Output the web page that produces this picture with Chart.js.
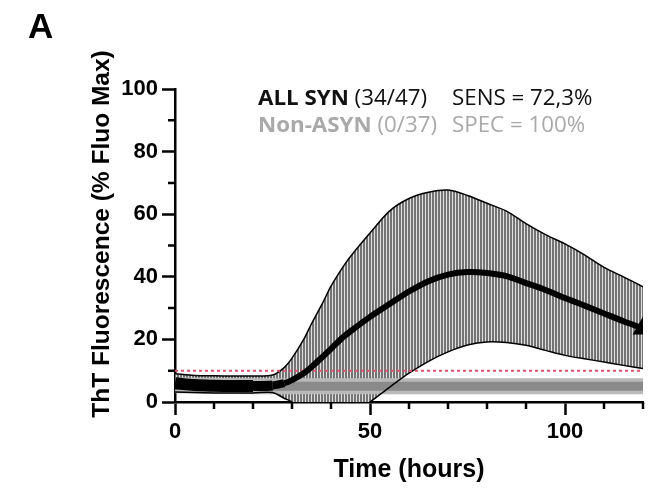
<!DOCTYPE html>
<html><head><meta charset="utf-8">
<script src="https://cdn.jsdelivr.net/npm/chart.js@4.4.0/dist/chart.umd.min.js"></script>
<style>html,body{margin:0;padding:0;background:#fff;}#wrap{width:659px;height:489px;position:relative;}</style>
</head><body><div id="wrap"><canvas id="c" width="659" height="489"></canvas></div>
<script>
// ---- data ----
const timeHours = [0,5,10,15,20,25,28,30,33,35,38,40,43,45,50,55,60,65,70,75,80,85,90,95,100,105,110,115,120];
const synMean   = [6,5.4,5.2,5.1,5.1,5.3,6,7,9.2,11.2,14.6,17,20.6,22.6,27.2,31.3,35.3,38.6,40.7,41.5,41.2,40.2,38,35.8,33.2,30.8,28.3,25.8,23.5];
const synUpper  = [9,8.5,8.4,8.3,8.3,8.6,11,14,20,25,32,37,43,46.5,54,61,65,67,67.7,66,63.5,61,57,53.5,50.5,47,43,40,36.8];
const synLower  = [3.2,3,2.9,2.9,2.9,3,1.2,0,-3,-5,-7,-8,-6,-4,0,4.7,9.2,13,16,18.2,19.2,19,18.1,16.5,14.9,13.8,12.8,11.7,10.7];
const nonTime   = [0,20,40,60,80,100,120];
const nonMean   = [5.3,5,5,5,5,5,5];
const nonUpper  = [7.8,7.6,7.6,7.6,7.6,7.6,7.6];
const nonLower  = [2.8,2.5,2.5,2.5,2.5,2.5,2.5];
const thresholdX = [0,120];
const thresholdY = [10,10];
const xMajorTicks = [0,50,100];
const xMinorTicks = [10,20,30,40,60,70,80,90,110,120];
const yMajorTicks = [0,20,40,60,80,100];
const yMinorTicks = [10,30,50,70,90];
const yTitle = 'ThT Fluorescence (% Fluo Max)';
const xTitle = 'Time (hours)';
const panelLabel = 'A';
const annot1 = [[{t:'ALL SYN',b:true},{t:' (34/47)',b:false}],[{t:'SENS = 72,3%',b:false}]];
const annot2 = [[{t:'Non-ASYN',b:true},{t:' (0/37)',b:false}],[{t:'SPEC = 100%',b:false}]];

const pts = (xs, ys) => xs.map((x,i)=>({x:x, y:ys[i]}));

const canvas = document.getElementById('c');
const ctx0 = canvas.getContext('2d');
const pc = document.createElement('canvas'); pc.width = 3; pc.height = 4;
const pcx = pc.getContext('2d');
pcx.fillStyle = '#747474'; pcx.fillRect(0,0,2,4);
pcx.fillStyle = '#e0e0e0'; pcx.fillRect(2,0,1,4);
const hatch = ctx0.createPattern(pc, 'repeat');

const AX = "'Liberation Sans', Arial, sans-serif";

const extras = {
  id: 'extras',
  afterDraw(chart) {
    const ctx = chart.ctx;
    const xs = chart.scales.x, ys = chart.scales.y;
    ctx.save();
    ctx.strokeStyle = '#000'; ctx.lineWidth = 2.5;
    ctx.beginPath();
    xMinorTicks.forEach(v => { const p = xs.getPixelForValue(v); ctx.moveTo(p, ys.bottom); ctx.lineTo(p, ys.bottom + 7); });
    yMinorTicks.forEach(v => { const p = ys.getPixelForValue(v); ctx.moveTo(xs.left, p); ctx.lineTo(xs.left - 7, p); });
    ctx.stroke();
    ctx.fillStyle = '#000';
    ctx.font = 'bold 25px ' + AX;
    ctx.textAlign = 'center'; ctx.textBaseline = 'alphabetic';
    ctx.fillText(xTitle, (xs.left + xs.right) / 2, 477);
    ctx.save();
    ctx.translate(109, 234); ctx.rotate(-Math.PI/2);
    ctx.font = 'bold 24.5px ' + AX;
    ctx.fillText(yTitle, 0, 0);
    ctx.restore();
    ctx.font = 'bold 35px ' + AX; ctx.textAlign = 'left';
    ctx.fillText(panelLabel, 28, 38);
    const F = "'Open Sans', sans-serif";
    ctx.font = 'bold 22px ' + F;
    let w = ctx.measureText('ALL SYN').width;
    ctx.font = '22px ' + F;
    w += ctx.measureText(' (34/47)').width;
    const sx = 169 / w;
    function drawParts(parts, x, y, color) {
      ctx.save(); ctx.translate(x, y); ctx.scale(sx, 1);
      ctx.fillStyle = color; ctx.textAlign = 'left';
      let cx = 0;
      parts.forEach(p => { ctx.font = (p.b ? 'bold ' : '') + '22px ' + F; ctx.fillText(p.t, cx, 0); cx += ctx.measureText(p.t).width; });
      ctx.restore();
    }
    drawParts(annot1[0], 258, 105, '#111');
    drawParts(annot1[1], 452, 105, '#111');
    drawParts(annot2[0], 258, 131.5, '#a9a9a9');
    drawParts(annot2[1], 452, 131.5, '#a9a9a9');
    ctx.restore();
  }
};

new Chart(canvas, {
  type: 'line',
  data: {
    datasets: [
      { data: pts(timeHours, synUpper), fill: '+1', backgroundColor: hatch, borderWidth: 0, pointRadius: 0, tension: 0.3, order: 10 },
      { data: pts(timeHours, synLower), fill: false, borderWidth: 0, pointRadius: 0, tension: 0.3, order: 9 },
      { data: pts(nonTime, nonUpper), fill: '+1', backgroundColor: '#b9b9b9', borderWidth: 0, pointRadius: 0, order: 8 },
      { data: pts(nonTime, nonLower), fill: false, borderWidth: 0, pointRadius: 0, order: 7 },
      { data: pts(nonTime, nonMean), fill: false, borderColor: '#8a8a8a', borderWidth: 9, borderCapStyle: 'round', pointRadius: 0, order: 6 },
      { data: pts(timeHours, synUpper), fill: false, borderColor: '#000', borderWidth: 1.5, pointRadius: 0, tension: 0.3, clip: 0, order: 5.6 },
      { data: pts(timeHours, synLower), fill: false, borderColor: '#000', borderWidth: 1.5, pointRadius: 0, tension: 0.3, clip: 0, order: 5.5 },
      { data: pts(thresholdX, thresholdY), fill: false, borderColor: '#e0506e', borderWidth: 2, borderDash: [3,3], pointRadius: 0, order: 5 },
      { data: pts(timeHours, synMean), fill: false, borderColor: '#000', borderWidth: 6, tension: 0.3,
        segment: { borderWidth: c => { const x = c.p0.parsed.x; return x < 20 ? 12 : (x < 25 ? 10 : (x < 28 ? 8 : 6)); } },
        pointStyle: 'triangle', backgroundColor: '#000', pointBorderColor: '#000',
        pointRadius: c => c.dataIndex === timeHours.length - 1 ? 6 : 0, order: 4 }
    ]
  },
  options: {
    responsive: false, animation: false, events: [],
    layout: { padding: { left: 0, top: 89, right: 16, bottom: 0 } },
    plugins: { legend: { display: false }, tooltip: { enabled: false } },
    scales: {
      x: {
        type: 'linear', min: 0, max: 120,
        afterBuildTicks: s => { s.ticks = xMajorTicks.map(v => ({ value: v })); },
        afterFit: s => { s.height = 87; },
        border: { color: '#000', width: 2.5 },
        grid: { drawOnChartArea: false, tickLength: 13, tickWidth: 2.5, tickColor: '#000' },
        ticks: { color: '#000', font: { family: AX, size: 22, weight: 'bold' }, padding: 4, maxRotation: 0 }
      },
      y: {
        min: 0, max: 100,
        afterBuildTicks: s => { s.ticks = yMajorTicks.map(v => ({ value: v })); },
        afterFit: s => { s.width = 175; },
        border: { color: '#000', width: 2.5 },
        grid: { drawOnChartArea: false, tickLength: 13, tickWidth: 2.5, tickColor: '#000' },
        ticks: { color: '#000', font: { family: AX, size: 22, weight: 'bold' }, padding: 4 }
      }
    }
  },
  plugins: [extras]
});
</script></body></html>
